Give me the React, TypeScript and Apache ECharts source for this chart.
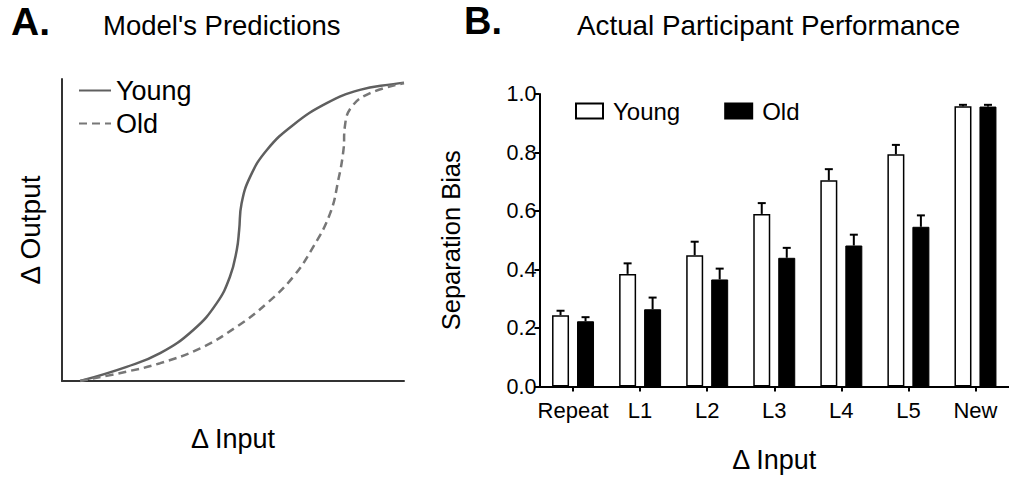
import React, { useEffect, useRef } from "react";
import * as echarts from "echarts";

// ---------- Panel A data (model predictions, arbitrary units 0-100) ----------
const youngCurve: [number, number][] = [
  [5.3, 0], [18.9, 4.7], [28.7, 9.2], [38.4, 16.9], [45.2, 25.7], [49.1, 34.5],
  [51.1, 43.4], [51.8, 50.0], [52.5, 58.8], [55.0, 67.6], [59.9, 76.5],
  [67.6, 84.8], [77.4, 92.0], [87.1, 96.4], [96.9, 98.3], [100, 98.8],
];
const oldCurve: [number, number][] = [
  [5.3, 0], [18.9, 3.1], [28.7, 5.9], [40.4, 10.8], [51.1, 18.0], [59.9, 25.7],
  [67.6, 34.5], [73.5, 44.5], [78.4, 55.5], [80.8, 66.6], [82.3, 76.5],
  [82.7, 84.2], [84.7, 90.8], [90.1, 95.3], [100, 98.6],
];

// ---------- Panel B data ----------
const categories = ["Repeat", "L1", "L2", "L3", "L4", "L5", "New"];
const youngValues = [0.244, 0.385, 0.449, 0.59, 0.705, 0.794, 0.958];
const oldValues = [0.223, 0.264, 0.366, 0.44, 0.482, 0.546, 0.957];
const youngErrors = [0.015, 0.036, 0.046, 0.037, 0.038, 0.032, 0.005];
const oldErrors = [0.014, 0.04, 0.037, 0.034, 0.037, 0.039, 0.006];

const FONT = "'Liberation Sans', Arial, Helvetica, sans-serif";

const BAR_W = 17;
const BAR_OFFSET = 12.5;

function errorRender(offset: number) {
  return (params: any, api: any) => {
    const idx = api.value(0);
    const v = api.value(1);
    const e = api.value(2);
    const base = api.coord([idx, v]);
    const top = api.coord([idx, v + e]);
    const x = base[0] + offset;
    return {
      type: "group",
      children: [
        { type: "line", shape: { x1: x, y1: base[1], x2: x, y2: top[1] }, style: { stroke: "#000", lineWidth: 2 } },
        { type: "line", shape: { x1: x - 4, y1: top[1], x2: x + 4, y2: top[1] }, style: { stroke: "#000", lineWidth: 2 } },
      ],
    };
  };
}

export default function App() {
  const ref = useRef<HTMLDivElement>(null);
  useEffect(() => {
    if (!ref.current) return;
    const chart = echarts.init(ref.current, null, { renderer: "svg" });
    const nameFmt = (n: string) => n.split("-")[0];
    chart.setOption({
      animation: false,
      backgroundColor: "#fff",
      textStyle: { fontFamily: FONT, color: "#000" },
      title: [
        { text: "A.", left: 11, top: 2, padding: 0, textStyle: { fontFamily: FONT, fontSize: 39, fontWeight: "bold", color: "#000" } },
        { text: "Model's Predictions", left: 103, top: 11, padding: 0, textStyle: { fontFamily: FONT, fontSize: 27.5, fontWeight: "normal", color: "#000" } },
        { text: "B.", left: 464, top: 2, padding: 0, textStyle: { fontFamily: FONT, fontSize: 38, fontWeight: "bold", color: "#000" } },
        { text: "Actual Participant Performance", left: 577, top: 11, padding: 0, textStyle: { fontFamily: FONT, fontSize: 27.8, fontWeight: "normal", color: "#000" } },
      ],
      legend: [
        {
          data: ["Young-A", "Old-A"],
          formatter: nameFmt,
          orient: "vertical",
          left: 78,
          top: 77,
          padding: 0,
          itemWidth: 32,
          itemHeight: 14,
          itemGap: 6,
          selectedMode: false,
          itemStyle: { opacity: 0 },
          textStyle: { fontFamily: FONT, fontSize: 27, color: "#000", padding: [0, 0, 0, 0] },
        },
        {
          data: ["Young-B", "Old-B"],
          formatter: nameFmt,
          orient: "horizontal",
          left: 575,
          top: 99,
          padding: 0,
          itemWidth: 27,
          itemHeight: 15,
          itemGap: 44,
          icon: "rect",
          selectedMode: false,
          textStyle: { fontFamily: FONT, fontSize: 24, color: "#000", padding: [0, 0, 0, 5] },
        },
      ],
      grid: [
        { left: 62, top: 79, width: 342, height: 302 },
        { left: 539.5, top: 94, width: 472.5, height: 292.5 },
      ],
      xAxis: [
        {
          gridIndex: 0,
          type: "value",
          min: 0,
          max: 100,
          axisLine: { show: true, lineStyle: { color: "#333", width: 2 } },
          axisTick: { show: false },
          axisLabel: { show: false },
          splitLine: { show: false },
          name: "\u0394 Input",
          nameLocation: "middle",
          nameGap: 44,
          nameTextStyle: { fontFamily: FONT, fontSize: 27, color: "#000" },
        },
        {
          gridIndex: 1,
          type: "category",
          data: categories,
          axisLine: { show: true, lineStyle: { color: "#000", width: 2 } },
          axisTick: { show: true, alignWithLabel: true, length: 5, lineStyle: { color: "#000", width: 2 } },
          axisLabel: { fontFamily: FONT, fontSize: 22, color: "#000", margin: 13, interval: 0 },
          splitLine: { show: false },
          name: "\u0394 Input",
          nameLocation: "middle",
          nameGap: 60,
          nameTextStyle: { fontFamily: FONT, fontSize: 27, color: "#000" },
        },
      ],
      yAxis: [
        {
          gridIndex: 0,
          type: "value",
          min: 0,
          max: 100,
          axisLine: { show: true, lineStyle: { color: "#333", width: 2 } },
          axisTick: { show: false },
          axisLabel: { show: false },
          splitLine: { show: false },
          name: "\u0394 Output",
          nameLocation: "middle",
          nameGap: 18,
          nameRotate: 90,
          nameTextStyle: { fontFamily: FONT, fontSize: 28, color: "#000" },
        },
        {
          gridIndex: 1,
          type: "value",
          min: 0,
          max: 1,
          interval: 0.2,
          axisLine: { show: true, lineStyle: { color: "#000", width: 2 } },
          axisTick: { show: true, length: 5, lineStyle: { color: "#000", width: 2 } },
          axisLabel: { fontFamily: FONT, fontSize: 21.5, color: "#000", margin: 3, formatter: (v: number) => v.toFixed(1) },
          splitLine: { show: false },
          name: "Separation Bias",
          nameLocation: "middle",
          nameGap: 76,
          nameRotate: 90,
          nameTextStyle: { fontFamily: FONT, fontSize: 25.5, color: "#000" },
        },
      ],
      series: [
        {
          name: "Young-A",
          type: "line",
          xAxisIndex: 0,
          yAxisIndex: 0,
          data: youngCurve,
          smooth: 0.45,
          symbol: "none",
          lineStyle: { color: "#5f5f5f", width: 2.5 },
          itemStyle: { color: "#5f5f5f" },
        },
        {
          name: "Old-A",
          type: "line",
          xAxisIndex: 0,
          yAxisIndex: 0,
          data: oldCurve,
          smooth: 0.45,
          symbol: "none",
          lineStyle: { color: "#777", width: 2.5, type: [8, 5] },
          itemStyle: { color: "#777" },
        },
        {
          name: "Young-B",
          type: "bar",
          xAxisIndex: 1,
          yAxisIndex: 1,
          data: youngValues,
          barWidth: BAR_W,
          barGap: "47%",
          itemStyle: { color: "#fff", borderColor: "#000", borderWidth: 1.5 },
        },
        {
          name: "Old-B",
          type: "bar",
          xAxisIndex: 1,
          yAxisIndex: 1,
          data: oldValues,
          barWidth: BAR_W,
          barGap: "47%",
          itemStyle: { color: "#000", borderColor: "#000", borderWidth: 1 },
        },
        {
          name: "errYoung",
          type: "custom",
          xAxisIndex: 1,
          yAxisIndex: 1,
          renderItem: errorRender(-BAR_OFFSET),
          encode: { x: 0, y: 1 },
          data: categories.map((_, i) => [i, youngValues[i], youngErrors[i]]),
          z: 5,
        },
        {
          name: "errOld",
          type: "custom",
          xAxisIndex: 1,
          yAxisIndex: 1,
          renderItem: errorRender(BAR_OFFSET),
          encode: { x: 0, y: 1 },
          data: categories.map((_, i) => [i, oldValues[i], oldErrors[i]]),
          z: 5,
        },
      ],
    });
    return () => chart.dispose();
  }, []);
  return (
    <div
      ref={ref}
      style={{ position: "fixed", left: 0, top: 0, width: 1009, height: 479, background: "#fff" }}
    />
  );
}
